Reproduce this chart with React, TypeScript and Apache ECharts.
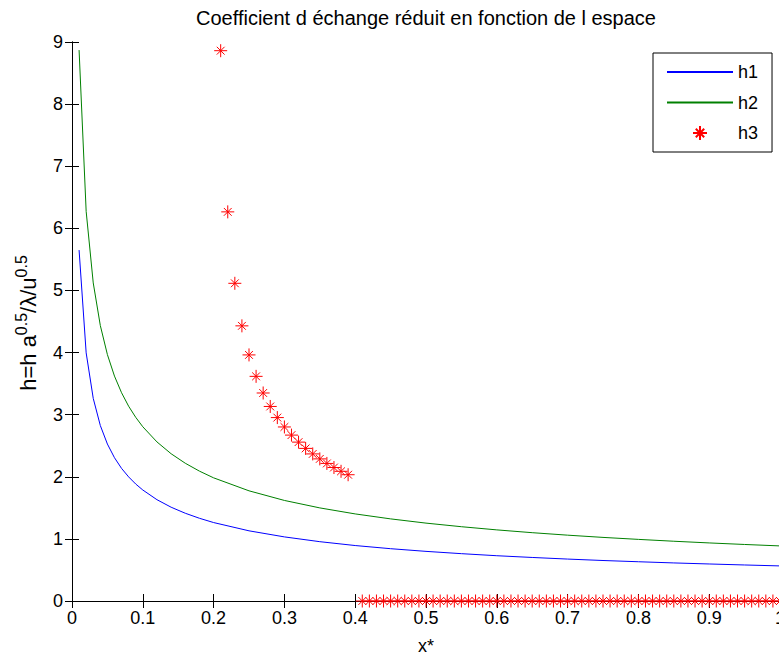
import React, { useEffect, useRef } from "react";
import * as echarts from "echarts";

// x positions of the h1 / h2 curves
const lineX = [0.01, 0.02, 0.03, 0.04, 0.05, 0.06, 0.07, 0.08, 0.09, 0.1, 0.12, 0.14, 0.16, 0.18, 0.2, 0.25, 0.3, 0.35, 0.4, 0.45, 0.5, 0.55, 0.6, 0.65, 0.7, 0.75, 0.8, 0.85, 0.9, 0.95, 1.0];
const h1Values = [5.65, 3.995, 3.262, 2.825, 2.527, 2.307, 2.135, 1.998, 1.883, 1.787, 1.631, 1.51, 1.413, 1.332, 1.263, 1.13, 1.032, 0.955, 0.893, 0.842, 0.799, 0.762, 0.729, 0.701, 0.675, 0.652, 0.632, 0.613, 0.596, 0.58, 0.565];
const h2Values = [8.87, 6.272, 5.121, 4.435, 3.967, 3.621, 3.353, 3.136, 2.957, 2.805, 2.561, 2.371, 2.218, 2.091, 1.983, 1.774, 1.619, 1.499, 1.402, 1.322, 1.254, 1.196, 1.145, 1.1, 1.06, 1.024, 0.992, 0.962, 0.935, 0.91, 0.887];

// h3 markers
const h3X = [0.21, 0.22, 0.23, 0.24, 0.25, 0.26, 0.27, 0.28, 0.29, 0.3, 0.31, 0.32, 0.33, 0.34, 0.35, 0.36, 0.37, 0.38, 0.39,
  0.41, 0.42, 0.43, 0.44, 0.45, 0.46, 0.47, 0.48, 0.49, 0.5, 0.51, 0.52, 0.53, 0.54, 0.55, 0.56, 0.57, 0.58, 0.59, 0.6,
  0.61, 0.62, 0.63, 0.64, 0.65, 0.66, 0.67, 0.68, 0.69, 0.7, 0.71, 0.72, 0.73, 0.74, 0.75, 0.76, 0.77, 0.78, 0.79, 0.8,
  0.81, 0.82, 0.83, 0.84, 0.85, 0.86, 0.87, 0.88, 0.89, 0.9, 0.91, 0.92, 0.93, 0.94, 0.95, 0.96, 0.97, 0.98, 0.99, 1.0];
const h3Values = [8.86, 6.265, 5.115, 4.43, 3.962, 3.617, 3.349, 3.132, 2.953, 2.802, 2.671, 2.558, 2.457, 2.368, 2.288, 2.215, 2.149, 2.088, 2.033,
  0, 0, 0, 0, 0, 0, 0, 0, 0, 0, 0, 0, 0, 0, 0, 0, 0, 0, 0, 0,
  0, 0, 0, 0, 0, 0, 0, 0, 0, 0, 0, 0, 0, 0, 0, 0, 0, 0, 0, 0,
  0, 0, 0, 0, 0, 0, 0, 0, 0, 0, 0, 0, 0, 0, 0, 0, 0, 0, 0, 0];

const seriesNames = ["h1", "h2", "h3"];
const titleText = "Coefficient d échange réduit en fonction de l espace";
const xAxisName = "x*";

const FONT = "'Liberation Sans', Arial, Helvetica, sans-serif";
const STAR = "path://M10 0L10 20M0 10L20 10M4 4L16 16M4 16L16 4";

export default function App() {
  const ref = useRef<HTMLDivElement>(null);
  useEffect(() => {
    if (!ref.current) return;
    const chart = echarts.init(ref.current, null, { renderer: "svg" });
    const pairs = (xs: number[], ys: number[]) => xs.map((x, i) => [x, ys[i]]);
    const axisCommon = {
      axisLine: { show: true, lineStyle: { color: "#000", width: 1 } },
      axisTick: { show: true, inside: true, length: 7, lineStyle: { color: "#000" } },
      splitLine: { show: false },
    };
    const hiddenSymbol = { color: "rgba(0,0,0,0)", borderWidth: 0, opacity: 0 };
    chart.setOption({
      animation: false,
      backgroundColor: "#fff",
      textStyle: { fontFamily: FONT },
      title: {
        text: titleText,
        left: 426,
        textAlign: "center",
        top: 8,
        padding: 0,
        textStyle: { fontFamily: FONT, fontSize: 20, fontWeight: "normal", color: "#000" },
      },
      grid: { left: 72, right: -1, top: 42, bottom: 55, containLabel: false, outerBoundsMode: "none" },
      legend: {
        orient: "vertical",
        left: 653,
        top: 53,
        padding: [10, 14, 10, 13],
        itemWidth: 66,
        itemHeight: 14,
        itemGap: 12.5,
        backgroundColor: "#fff",
        borderColor: "#000",
        borderWidth: 1,
        borderRadius: 0,
        textStyle: { fontFamily: FONT, fontSize: 18, color: "#000" },
        data: [
          { name: seriesNames[0], itemStyle: hiddenSymbol },
          { name: seriesNames[1], itemStyle: hiddenSymbol },
          { name: seriesNames[2] },
        ],
      },
      xAxis: [
        {
          type: "value",
          min: 0,
          max: 1,
          interval: 0.1,
          position: "bottom",
          name: xAxisName,
          nameLocation: "middle",
          nameGap: 36,
          nameTextStyle: { fontFamily: FONT, fontSize: 18, color: "#000" },
          axisLabel: { fontFamily: FONT, fontSize: 18, color: "#000", margin: 8 },
          ...axisCommon,
        },
        {
          type: "value",
          min: 0,
          max: 1,
          interval: 0.1,
          position: "top",
          axisLabel: { show: false },
          ...axisCommon,
        },
      ],
      yAxis: [
        {
          type: "value",
          min: 0,
          max: 9,
          interval: 1,
          position: "left",
          axisLabel: { fontFamily: FONT, fontSize: 18, color: "#000", margin: 9 },
          ...axisCommon,
        },
        {
          type: "value",
          min: 0,
          max: 9,
          interval: 1,
          position: "right",
          axisLabel: { show: false },
          ...axisCommon,
        },
      ],
      graphic: [
        {
          type: "text",
          x: 28,
          y: 323,
          rotation: Math.PI / 2,
          style: {
            text: "{b|h=h a}{s|0.5}{b|/λ/u}{s|0.5}",
            align: "center",
            verticalAlign: "middle",
            fill: "#000",
            rich: {
              b: { fontFamily: FONT, fontSize: 22, lineHeight: 30, fill: "#000" },
              s: { fontFamily: FONT, fontSize: 16, lineHeight: 30, verticalAlign: "top", fill: "#000" },
            },
          },
        },
      ],
      series: [
        {
          name: seriesNames[0],
          type: "line",
          data: pairs(lineX, h1Values),
          symbol: "none",
          showSymbol: false,
          lineStyle: { color: "#0000ff", width: 1 },
          itemStyle: { color: "#0000ff" },
          z: 3,
        },
        {
          name: seriesNames[1],
          type: "line",
          data: pairs(lineX, h2Values),
          symbol: "none",
          showSymbol: false,
          lineStyle: { color: "#008000", width: 1 },
          itemStyle: { color: "#008000" },
          z: 3,
        },
        {
          name: seriesNames[2],
          type: "scatter",
          data: pairs(h3X, h3Values),
          symbol: STAR,
          symbolSize: 13,
          symbolKeepAspect: true,
          clip: false,
          itemStyle: { color: "rgba(0,0,0,0)", borderColor: "#ff0000", borderWidth: 1, opacity: 1 },
          z: 4,
        },
      ],
    });
    return () => chart.dispose();
  }, []);
  return <div ref={ref} style={{ position: "fixed", left: 0, top: 0, width: 779, height: 656 }} />;
}
